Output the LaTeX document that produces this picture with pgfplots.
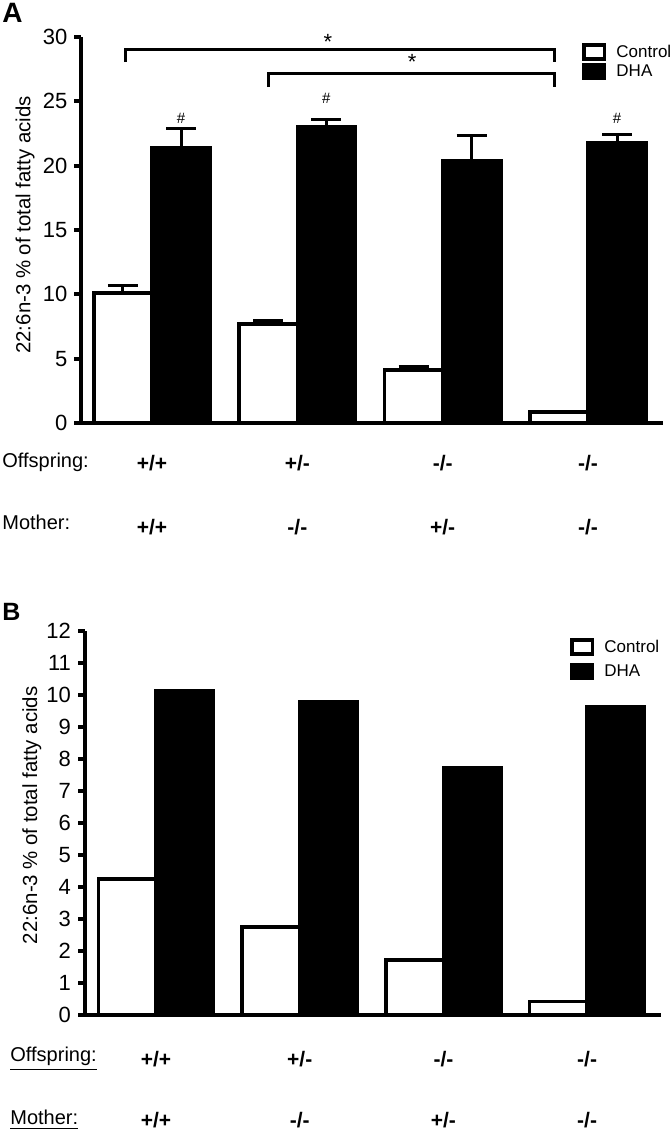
\documentclass[border=0pt]{standalone}
\usepackage{pgfplots}
\pgfplotsset{compat=1.18}
\usepackage{fontspec}
\setmainfont{Liberation Sans}
\begin{document}
\begin{tikzpicture}[x=1pt,y=1pt]
\useasboundingbox (0,0) rectangle (335,566);
\pgfplotsset{
  panel/.style={
    scale only axis, clip=false, enlargelimits=false,
    axis x line=bottom, axis y line=left,
    axis line style={-, line width=2pt},
    tick align=outside, major tick length=3.5pt,
    ytick style={line width=2pt, black},
    xtick style={draw=none},
    xtick={0,1,2,3},
    xticklabels={+/+,+/-,-/-,-/-},
    xticklabel style={font=\bfseries\fontsize{10.5}{12}\selectfont, anchor=base, yshift=-20pt},
    extra x ticks={0,1,2,3},
    extra x tick labels={+/+,-/-,+/-,-/-},
    yticklabel style={font=\fontsize{11}{13}\selectfont},
    /pgf/number format/assume math mode=true,
    ymin=0, ybar, bar width=0.4,
    ylabel={22:6n-3 \% of total fatty acids},
    legend style={draw=none, fill=none, inner sep=0pt, anchor=north west,
      font=\fontsize{8.5}{10}\selectfont,
      nodes={inner xsep=5pt, inner ysep=0pt, text height=6.5pt, text depth=1.5pt},
      cells={anchor=west}},
  },
  ctrl/.style={draw=black, fill=white, line width=1.75pt, bar shift=-0.2,
     legend image code/.code={\draw[line width=1.8pt, draw=black, fill=white] (0.9pt,-3.4pt) rectangle (11.1pt,3.4pt);}},
  dha/.style={draw=black, fill=black, line width=1.75pt, bar shift=0.2,
     legend image code/.code={\draw[line width=1.8pt, draw=black, fill=black] (0.9pt,-3.4pt) rectangle (11.1pt,3.4pt);}},
  errs/.style={error bars/.cd, y dir=plus, y explicit,
     error bar style={line width=1.5pt, black},
     error mark options={line width=1.5pt, mark size=7.5pt, black, rotate=90}},
}
% ---------------- Panel A ----------------
\begin{axis}[panel, at={(40.75pt,354.5pt)}, anchor=south west,
  width=290.75pt, height=193pt,
  xmin=-0.485, xmax=3.516, ymax=30, ytick={0,5,...,30},
  extra x tick style={xticklabel style={yshift=-32pt}},
  every axis y label/.style={at={(axis description cs:-0.088,0.513)}, rotate=90, anchor=base, font=\fontsize{10.2}{12}\selectfont},
  legend style={at={(axis cs:2.959,29.53)}, row sep=1.25pt}]
\addplot[ctrl, errs] coordinates {(0,10.1) +- (0,0.6) (1,7.7) +- (0,0.25) (2,4.12) +- (0,0.3) (3,0.85) +- (0,0)};
\addlegendentry{Control}
\addplot[dha, errs] coordinates {(0,21.37) +- (0,1.55) (1,23.0) +- (0,0.6) (2,20.36) +- (0,1.95) (3,21.76) +- (0,0.7)};
\addlegendentry{DHA}
\node[font=\fontsize{7.5}{8}\selectfont, inner sep=0pt] at (axis cs:0.2,23.7) {\#};
\node[font=\fontsize{7.5}{8}\selectfont, inner sep=0pt] at (axis cs:1.2,25.25) {\#};
\node[font=\fontsize{7.5}{8}\selectfont, inner sep=0pt] at (axis cs:3.2,23.7) {\#};
\draw[line width=1.5pt] (axis cs:-0.18,28.05) -- (axis cs:-0.18,29.06) -- (axis cs:2.77,29.06) -- (axis cs:2.77,28.05);
\draw[line width=1.5pt] (axis cs:0.8,26.1) -- (axis cs:0.8,27.2) -- (axis cs:2.77,27.2) -- (axis cs:2.77,26.1);
\node[font=\fontsize{11}{12}\selectfont, inner sep=0pt] at (axis cs:1.21,29.6) {*};
\node[font=\fontsize{11}{12}\selectfont, inner sep=0pt] at (axis cs:1.79,28.05) {*};
\end{axis}
% ---------------- Panel B ----------------
\begin{axis}[panel, at={(42.5pt,58.5pt)}, anchor=south west,
  width=288pt, height=192pt,
  xmin=-0.494, xmax=3.514, ymax=12, ytick={0,1,...,12},
  xticklabel style={yshift=-2pt},
  extra x tick style={xticklabel style={yshift=-30.5pt}},
  every axis y label/.style={at={(axis description cs:-0.083,0.52)}, rotate=90, anchor=base, font=\fontsize{10.2}{12}\selectfont},
  legend style={at={(axis cs:2.881,11.78)}, row sep=3.75pt}]
\addplot[ctrl] coordinates {(0,4.25) (1,2.75) (2,1.72) (3,0.42)};
\addlegendentry{Control}
\addplot[dha] coordinates {(0,10.13) (1,9.8) (2,7.72) (3,9.62)};
\addlegendentry{DHA}
\end{axis}
% ---------------- Row labels and panel letters ----------------
\node[anchor=base west, inner sep=0pt, font=\fontsize{10}{12}\selectfont] at (1,332) {Offspring:};
\node[anchor=base west, inner sep=0pt, font=\fontsize{10}{12}\selectfont] at (1,301) {Mother:};
\node[anchor=base west, inner sep=0pt, font=\fontsize{10}{12}\selectfont] at (5,35) {\underline{Offspring:}};
\node[anchor=base west, inner sep=0pt, font=\fontsize{10}{12}\selectfont] at (5,3.5) {\underline{Mother:}};
\node[anchor=north west, inner sep=0pt, font=\bfseries\fontsize{14}{16}\selectfont] at (1,564.5) {A};
\node[anchor=north west, inner sep=0pt, font=\bfseries\fontsize{12.5}{14}\selectfont] at (1,264.5) {B};
\end{tikzpicture}
\end{document}
